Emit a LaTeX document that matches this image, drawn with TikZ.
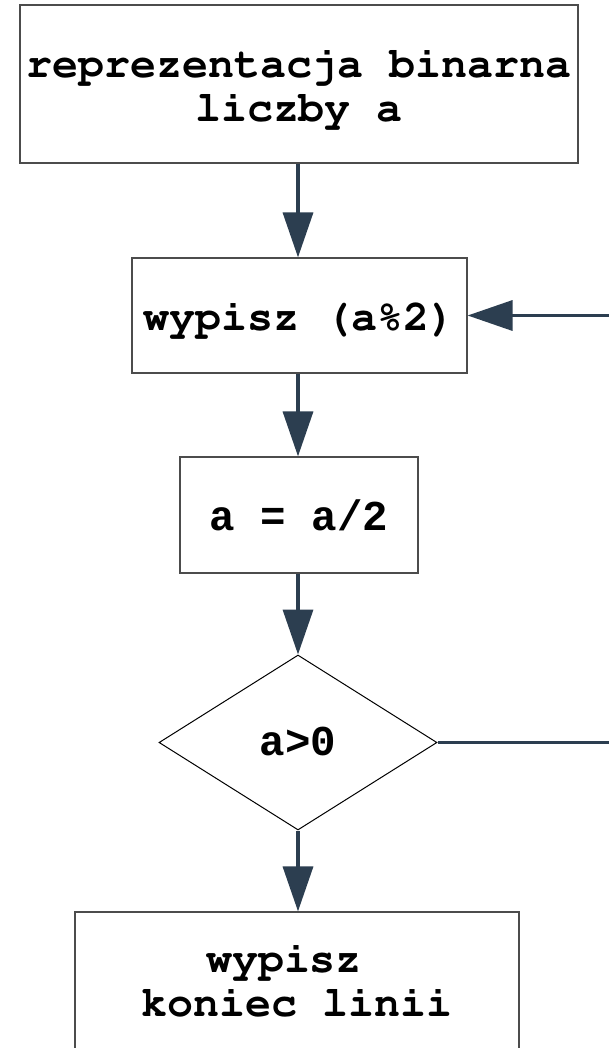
\documentclass[tikz,border=0pt]{standalone}
\usepackage[T1]{fontenc}
\usepackage{fontspec}
\usetikzlibrary{arrows.meta,shapes.geometric}

% Typewriter faces: Courier bold for the labels, Liberation Mono bold for the formulas
\newfontfamily\libmono{Liberation Mono}
\newcommand\courbold{\fontencoding{T1}\fontfamily{pcr}\fontseries{b}\fontshape{n}\fontsize{43.3bp}{44bp}\selectfont}
\newcommand\libbold{\libmono\bfseries\fontsize{42.5bp}{44bp}\selectfont}

\definecolor{flowarrow}{RGB}{44,62,80}

\tikzset{
  procbox/.style={draw=black!70, line width=1.2bp, rectangle, inner sep=0pt,
                  align=center, font=\courbold},
  decision/.style={diamond, draw=black, line width=1bp, inner sep=0pt,
                   font=\libbold},
  flow/.style={draw=flowarrow, line width=3.5bp,
               -{Triangle[length=45bp,width=30bp]}},
  plainflow/.style={draw=flowarrow, line width=3.5bp},
}

\begin{document}
\begin{tikzpicture}[x=1bp,y=-1bp]
  \useasboundingbox[fill=white] (0,0) rectangle (609,1048);

  % process steps (text height/depth place the last baseline inside the frames)
  \node[procbox, minimum width=558bp, minimum height=158bp,
        text height=85bp, text depth=10bp] (bin) at (299,84)
    {reprezentacja binarna\\liczby a};
  \node[procbox, minimum width=335bp, minimum height=115bp,
        text height=40bp, text depth=10bp] (out) at (299.5,315.5)
    {wypisz (a\%2)};
  \node[procbox, minimum width=238bp, minimum height=116bp, font=\libbold,
        text height=41bp, text depth=10bp] (half) at (299,515)
    {a = a/2};
  \node[decision, minimum width=278bp, minimum height=175bp,
        text height=35bp, text depth=10bp] (cond) at (298,742.5)
    {a>0};
  \node[procbox, minimum width=444bp, minimum height=144bp,
        text height=74bp, text depth=10bp] (endl) at (297,984)
    {wypisz\hspace*{0.6em}\\koniec linii};

  % loop continues beyond the right edge
  \coordinate (loopin) at (609,315.5);
  \coordinate (loopout) at (609,742.5);

  % connectors
  \draw[flow] (bin.south -| cond.north) -- (out.north -| cond.north);
  \draw[flow] (out.south -| cond.north) -- (half.north -| cond.north);
  \draw[flow] (half.south -| cond.north) -- (cond.north);
  \draw[flow] (cond.south) -- (endl.north -| cond.south);
  \draw[flow] (loopin) -- (out.east);
  \draw[plainflow] (cond.east) -- (loopout);
\end{tikzpicture}
\end{document}
